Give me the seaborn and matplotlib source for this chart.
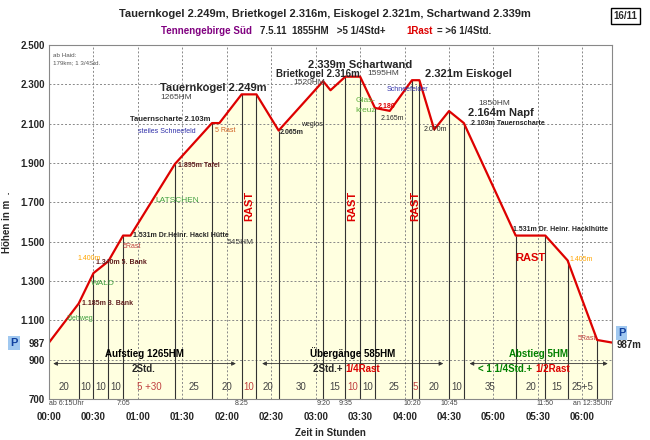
import matplotlib
matplotlib.use("Agg")
import matplotlib.pyplot as plt
import seaborn as sns
import numpy as np

sns.set_style("white")
plt.rcParams['font.family'] = ['Liberation Sans', 'DejaVu Sans']

times = [0, 20, 30, 40, 50, 55, 85, 110, 115, 130, 140, 155, 185, 190, 200, 210, 220, 230, 245, 250, 260, 270, 280, 315, 335, 350, 370, 380]
elev = [987, 1185, 1340, 1400, 1531, 1531, 1895, 2103, 2103, 2249, 2249, 2065, 2316, 2270, 2339, 2339, 2180, 2165, 2321, 2321, 2070, 2164, 2103, 1531, 1531, 1405, 1000, 987]
seg_lines = [20, 30, 40, 50, 85, 110, 130, 140, 155, 185, 200, 210, 220, 245, 250, 270, 280, 315, 335, 350, 370]
seg_labels = ["20", "10", "10", "10", "5 +30", "25", "20", "10", "20", "30", "15", "10", "10", "25", "5", "20", "10", "35", "20", "15", "25+5"]
seg_red = [False]*4 + [True, False, False, True, False, False, False, True, False, False, True, False, False, False, False, False, False]
yticks = [700, 900, 987, 1100, 1300, 1500, 1700, 1900, 2100, 2300, 2500]
ytick_labels = ["700", "900", "987", "1.100", "1.300", "1.500", "1.700", "1.900", "2.100", "2.300", "2.500"]
xticks = list(range(0, 361, 30))
xtick_labels = ["00:00", "00:30", "01:00", "01:30", "02:00", "02:30", "03:00", "03:30", "04:00", "04:30", "05:00", "05:30", "06:00"]
clock = [(0, "ab 6:15Uhr"), (50, "7:05"), (130, "8:25"), (185, "9:20"), (200, "9:35"), (245, "10:20"), (270, "10:45"), (335, "11:50"), (380, "an 12:35Uhr")]

fig = plt.figure(figsize=(6.5, 4.4), dpi=100)
ax = fig.add_axes([49/650, 1-399/440, (612-49)/650, (399-45)/440])
ax.set_xlim(0, 380)
ax.set_ylim(700, 2500)
ax.fill_between(times, elev, 700, color="#FFFFE0")
for y in yticks:
    if y not in (700, 987):
        ax.axhline(y, color="#888888", ls=(0, (2, 2)), lw=0.7)
for x in xticks[1:]:
    ax.axvline(x, color="#888888", ls=(0, (2, 2)), lw=0.7)
for t in seg_lines:
    ax.vlines(t, 700, np.interp(t, times, elev), color="#333333", lw=0.8)
sns.lineplot(x=times, y=elev, ax=ax, color="#DD0000", lw=1.6, sort=False)

ax.set_xticks(xticks)
ax.set_xticklabels(xtick_labels)
ax.set_yticks(yticks)
ax.set_yticklabels(ytick_labels, fontsize=7, fontweight="bold")
ax.tick_params(axis="x", labelsize=7, pad=9, length=0)
ax.tick_params(axis="y", length=0, pad=3)
for lab in ax.get_xticklabels():
    lab.set_fontweight("bold")
ax.set_xlabel("Zeit in Stunden", fontsize=7, fontweight="bold", labelpad=5)
ax.set_ylabel("Höhen in m  .", fontsize=7, fontweight="bold", labelpad=6)
for s in ax.spines.values():
    s.set_color("#888888")

# segment durations
prev = 0
for t, lab, red in zip(seg_lines + [380], seg_labels, seg_red):
    ax.text((prev+t)/2, 745, lab, ha="center", fontsize=7, color="#C04040" if red else "#444444")
    prev = t
for i, (t, c) in enumerate(clock):
    ha = "left" if i == 0 else ("right" if i == len(clock) - 1 else "center")
    ax.text(t, 697, c, ha=ha, va="top", fontsize=5, color="#444444", clip_on=False)

# phase arrows
for a, b, t1, c in [(1, 128, "Aufstieg 1265HM", "black"), (142, 268, "Übergänge 585HM", "black"), (282, 379, "Abstieg 5HM", "green")]:
    ax.annotate("", xy=(b, 880), xytext=(a, 880), arrowprops=dict(arrowstyle="<|-|>", color="#333333", lw=0.6, mutation_scale=6))
    ax.text((a+b)/2, 915, t1, ha="center", fontsize=7, fontweight="bold", color=c)
ax.text(64, 835, "2Std.", ha="center", fontsize=7, fontweight="bold")
ax.text(200, 835, "2Std.+ ", ha="right", fontsize=7, fontweight="bold")
ax.text(200, 835, "1/4Rast", ha="left", fontsize=7, fontweight="bold", color="#DD0000")
ax.text(328, 835, "< 1 1/4Std.+ ", ha="right", fontsize=7, fontweight="bold", color="green")
ax.text(328, 835, "1/2Rast", ha="left", fontsize=7, fontweight="bold", color="#DD0000")

# RAST
for t in [135, 205, 247]:
    ax.text(t, 1680, "RAST", rotation=90, ha="center", va="center", fontsize=8, fontweight="bold", color="#DD0000")
ax.text(325, 1400, "RAST", ha="center", fontsize=8, fontweight="bold", color="#DD0000")

# summit labels
kw = dict(fontsize=8, fontweight="bold")
ax.text(75, 2265, "Tauernkogel 2.249m", **kw)
ax.text(75, 2225, "1265HM", fontsize=6, color="#444444")
ax.text(153, 2335, "Brietkogel 2.316m", fontsize=7, fontweight="bold")
ax.text(165, 2300, "1520HM", fontsize=6, color="#444444")
ax.text(175, 2385, "2.339m Schartwand", **kw)
ax.text(215, 2345, "1595HM", fontsize=6, color="#444444")
ax.text(254, 2335, "2.321m Eiskogel", **kw)
ax.text(283, 2140, "2.164m Napf", **kw)
ax.text(290, 2195, "1850HM", fontsize=6, color="#444444")
ax.text(285, 2093, "2.103m Tauernscharte", fontsize=5, fontweight="bold")
ax.text(55, 2115, "Tauernscharte 2.103m", fontsize=5.5, fontweight="bold")
ax.text(60, 2055, "steiles Schneefeld", fontsize=5, color="#3030AA")
ax.text(112, 2060, "5 Rast", fontsize=5, color="#D06020")
ax.text(87, 1880, "1.895m Tafel", fontsize=5, fontweight="bold", color="#602020")
ax.text(72, 1700, "LATSCHEN", fontsize=6, color="#40A040")
ax.text(57, 1522, "1.531m Dr.Heinr. Hackl Hütte", fontsize=5, fontweight="bold")
ax.text(120, 1490, "545HM", fontsize=6, color="#444444")
ax.text(50, 1470, "5Rast", fontsize=5, color="#C04040")
ax.text(32, 1385, "1.340m 5. Bank", fontsize=5, fontweight="bold", color="#602020")
ax.text(19, 1405, "1.400m", fontsize=5, color="orange")
ax.text(28, 1280, "WALD", fontsize=6, color="#40A040")
ax.text(22, 1180, "1.185m 3. Bank", fontsize=5, fontweight="bold", color="#602020")
ax.text(12, 1100, "Ziehweg", fontsize=5, color="#40A040")
ax.text(156, 2045, "2.065m", fontsize=5, fontweight="bold")
ax.text(170, 2090, "weglos", fontsize=5)
ax.text(207, 2160, "Glas-\nkreuz", fontsize=6, color="#60B040", linespacing=1.5)
ax.text(224, 2120, "2.165m", fontsize=5)
ax.text(222, 2180, "2.180", fontsize=5, color="#DD0000", fontweight="bold")
ax.text(228, 2265, "Schneefelder", fontsize=5, color="#3030AA")
ax.text(253, 2065, "2.070m", fontsize=5)
ax.text(313, 1555, "1.531m Dr. Heinr. Hacklhütte", fontsize=5, fontweight="bold")
ax.text(351, 1400, "1.405m", fontsize=5, color="orange")
ax.text(357, 1000, "5Rast", fontsize=5, color="#C04040")
ax.text(3, 2460, "ab Haid:\n179km; 1 3/4Std.", fontsize=4.5, color="#555555", va="top", linespacing=1.6)
fig.text(14/650, 1-343/440, "P", fontsize=8, fontweight="bold", color="#1040A0", ha="center", va="center",
         bbox=dict(facecolor="#A0C8F0", edgecolor="none", pad=1.5))
ax.text(384, 1020, "P", fontsize=8, fontweight="bold", color="#1040A0",
        bbox=dict(facecolor="#A0C8F0", edgecolor="none", pad=1.5), clip_on=False)
ax.text(383, 960, "987m", fontsize=7, fontweight="bold", clip_on=False)

fig.text(0.5, 0.962, "Tauernkogel 2.249m, Brietkogel 2.316m, Eiskogel 2.321m, Schartwand 2.339m",
         ha="center", fontsize=8, fontweight="bold")
fig.text(0.248, 0.922, "Tennengebirge Süd", ha="left", fontsize=7, fontweight="bold", color="#800080")
fig.text(0.40, 0.922, "7.5.11  1855HM   >5 1/4Std+", ha="left", fontsize=7, fontweight="bold")
fig.text(0.625, 0.922, "1Rast", ha="left", fontsize=7, fontweight="bold", color="#DD0000")
fig.text(0.672, 0.922, "= >6 1/4Std.", ha="left", fontsize=7, fontweight="bold")
fig.text(0.962, 0.957, "16/11", ha="center", fontsize=7, fontweight="bold",
         bbox=dict(facecolor="white", edgecolor="black", pad=2))
fig.savefig("out.png", dpi=100)
